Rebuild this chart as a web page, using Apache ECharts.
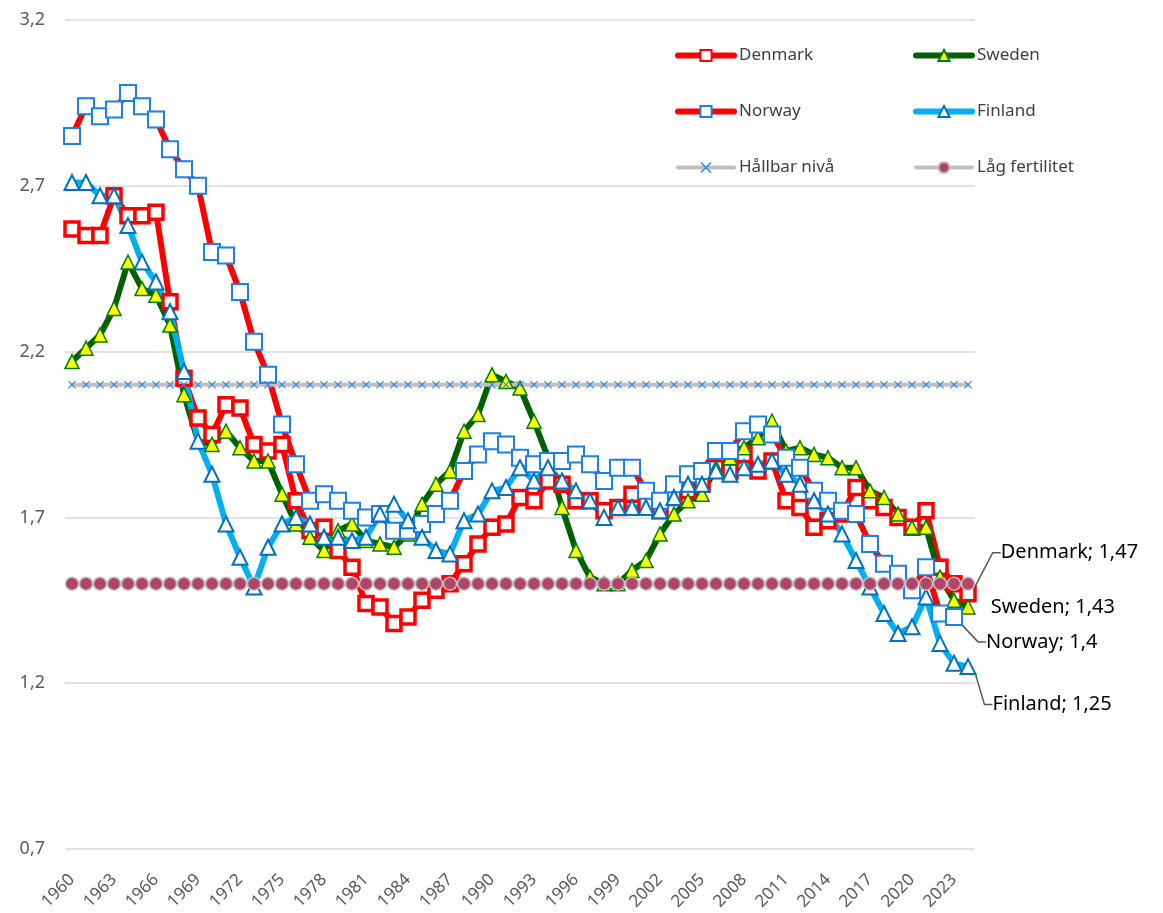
<!DOCTYPE html>
<html>
<head>
<meta charset="utf-8">
<script src="https://cdn.jsdelivr.net/npm/echarts@6/dist/echarts.min.js"></script>
<style>
  html, body { margin: 0; padding: 0; background: #fff; }
  #chart { width: 1163px; height: 913px; }
</style>
</head>
<body>
<div id="chart"></div>
<script>
// years 1960-2024
var years = [];
for (var y = 1960; y <= 2024; y++) years.push(String(y));

var denmark = [2.57, 2.55, 2.55, 2.67, 2.61, 2.61, 2.62, 2.35, 2.12, 2.00,
  1.95, 2.04, 2.03, 1.92, 1.90, 1.92, 1.75, 1.66, 1.67, 1.60,
  1.55, 1.44, 1.43, 1.38, 1.40, 1.45, 1.48, 1.50, 1.56, 1.62,
  1.67, 1.68, 1.76, 1.75, 1.81, 1.80, 1.75, 1.75, 1.72, 1.73,
  1.77, 1.74, 1.72, 1.76, 1.78, 1.80, 1.85, 1.84, 1.89, 1.84,
  1.87, 1.75, 1.73, 1.67, 1.69, 1.71, 1.79, 1.75, 1.73, 1.70,
  1.67, 1.72, 1.55, 1.50, 1.47];

var sweden = [2.17, 2.21, 2.25, 2.33, 2.47, 2.39, 2.37, 2.28, 2.07, 1.93,
  1.92, 1.96, 1.91, 1.87, 1.87, 1.77, 1.68, 1.64, 1.60, 1.66,
  1.68, 1.63, 1.62, 1.61, 1.65, 1.74, 1.80, 1.84, 1.96, 2.01,
  2.13, 2.11, 2.09, 1.99, 1.88, 1.73, 1.60, 1.52, 1.50, 1.50,
  1.54, 1.57, 1.65, 1.71, 1.75, 1.77, 1.85, 1.88, 1.91, 1.94,
  1.99, 1.90, 1.91, 1.89, 1.88, 1.85, 1.85, 1.78, 1.76, 1.71,
  1.67, 1.67, 1.52, 1.45, 1.43];

var norway = [2.85, 2.94, 2.91, 2.93, 2.98, 2.94, 2.90, 2.81, 2.75, 2.70,
  2.50, 2.49, 2.38, 2.23, 2.13, 1.98, 1.86, 1.75, 1.77, 1.75,
  1.72, 1.70, 1.71, 1.66, 1.66, 1.68, 1.71, 1.75, 1.84, 1.89,
  1.93, 1.92, 1.88, 1.86, 1.87, 1.87, 1.89, 1.86, 1.81, 1.85,
  1.85, 1.78, 1.75, 1.80, 1.83, 1.84, 1.90, 1.90, 1.96, 1.98,
  1.95, 1.88, 1.85, 1.78, 1.75, 1.72, 1.71, 1.62, 1.56, 1.53,
  1.48, 1.55, 1.41, 1.40];

var finland = [2.71, 2.71, 2.67, 2.67, 2.58, 2.47, 2.41, 2.32, 2.14, 1.93,
  1.83, 1.68, 1.58, 1.49, 1.61, 1.68, 1.70, 1.68, 1.64, 1.64,
  1.63, 1.64, 1.71, 1.74, 1.69, 1.64, 1.60, 1.59, 1.69, 1.71,
  1.78, 1.79, 1.85, 1.81, 1.85, 1.81, 1.78, 1.75, 1.70, 1.73,
  1.73, 1.73, 1.72, 1.76, 1.80, 1.80, 1.84, 1.83, 1.85, 1.86,
  1.87, 1.83, 1.80, 1.75, 1.71, 1.65, 1.57, 1.49, 1.41, 1.35,
  1.37, 1.46, 1.32, 1.26, 1.25];

// reference levels (one value per year)
var hallbar = [2.1, 2.1, 2.1, 2.1, 2.1, 2.1, 2.1, 2.1, 2.1, 2.1,
  2.1, 2.1, 2.1, 2.1, 2.1, 2.1, 2.1, 2.1, 2.1, 2.1,
  2.1, 2.1, 2.1, 2.1, 2.1, 2.1, 2.1, 2.1, 2.1, 2.1,
  2.1, 2.1, 2.1, 2.1, 2.1, 2.1, 2.1, 2.1, 2.1, 2.1,
  2.1, 2.1, 2.1, 2.1, 2.1, 2.1, 2.1, 2.1, 2.1, 2.1,
  2.1, 2.1, 2.1, 2.1, 2.1, 2.1, 2.1, 2.1, 2.1, 2.1,
  2.1, 2.1, 2.1, 2.1, 2.1];

var lag = [1.5, 1.5, 1.5, 1.5, 1.5, 1.5, 1.5, 1.5, 1.5, 1.5,
  1.5, 1.5, 1.5, 1.5, 1.5, 1.5, 1.5, 1.5, 1.5, 1.5,
  1.5, 1.5, 1.5, 1.5, 1.5, 1.5, 1.5, 1.5, 1.5, 1.5,
  1.5, 1.5, 1.5, 1.5, 1.5, 1.5, 1.5, 1.5, 1.5, 1.5,
  1.5, 1.5, 1.5, 1.5, 1.5, 1.5, 1.5, 1.5, 1.5, 1.5,
  1.5, 1.5, 1.5, 1.5, 1.5, 1.5, 1.5, 1.5, 1.5, 1.5,
  1.5, 1.5, 1.5, 1.5, 1.5];

var FONT = '"Noto Sans", "Open Sans", sans-serif';
var crossPath = 'path://M0,1L1,0L5,4L9,0L10,1L6,5L10,9L9,10L5,6L1,10L0,9L4,5Z';

function fmt(v) {
  return v.toFixed(2).replace(/0$/, '').replace(/\.$/, '').replace('.', ',');
}

// show a label only on the last point of a series
function withEndLabel(arr, name) {
  var out = arr.slice();
  var last = out.length - 1;
  out[last] = {
    value: arr[last],
    label: {
      show: true,
      formatter: name + '; ' + fmt(arr[last])
    }
  };
  return out;
}

var endLabelBase = {
  position: 'right',
  distance: 5,
  color: '#000',
  fontSize: 20,
  fontFamily: FONT
};

var myChart = echarts.init(document.getElementById('chart'));

var legendText = { color: '#404040', fontSize: 17, fontFamily: FONT };
var legendBase = {
  orient: 'vertical',
  top: 47,
  padding: 0,
  itemWidth: 56, itemHeight: 14, itemGap: 39,
  lineStyle: { width: 'inherit' },
  textStyle: legendText
};

var option = {
  backgroundColor: '#fff',
  animation: false,
  grid: { left: 65, right: 188, top: 20, bottom: 64 },
  legend: [
    Object.assign({ data: ['Denmark', 'Norway', 'Hållbar nivå'], left: 675 }, legendBase),
    Object.assign({ data: ['Sweden', 'Finland', 'Låg fertilitet'], left: 913 }, legendBase)
  ],
  xAxis: {
    type: 'category',
    data: years,
    boundaryGap: true,
    axisLine: { show: false },
    axisTick: { show: false },
    axisLabel: {
      interval: 2,
      rotate: 45,
      margin: 28,
      color: '#595959',
      fontSize: 17,
      fontFamily: FONT
    }
  },
  yAxis: {
    type: 'value',
    min: 0.7,
    max: 3.2,
    interval: 0.5,
    axisLine: { show: false },
    axisTick: { show: false },
    axisLabel: {
      margin: 20,
      color: '#595959',
      fontSize: 18,
      fontFamily: FONT,
      formatter: function (v) { return v.toFixed(1).replace('.', ','); }
    },
    splitLine: { lineStyle: { color: '#D9D9D9', width: 1.5 } }
  },
  series: [
    {
      name: 'Denmark',
      type: 'line',
      data: withEndLabel(denmark, 'Denmark'),
      showAllSymbol: true,
      symbol: 'rect',
      symbolSize: 14,
      lineStyle: { color: '#FF0000', width: 6, cap: 'round', join: 'round' },
      itemStyle: { color: '#FFFFFF', borderColor: '#FF0000', borderWidth: 3.5 },
      label: endLabelBase,
      labelLayout: { dx: 19, dy: -41 },
      labelLine: { show: true, length2: 8, lineStyle: { color: '#595959', width: 1.5 } }
    },
    {
      name: 'Sweden',
      type: 'line',
      data: withEndLabel(sweden, 'Sweden'),
      showAllSymbol: true,
      symbol: 'triangle',
      symbolSize: 14,
      lineStyle: { color: '#006100', width: 6, cap: 'round', join: 'round' },
      itemStyle: { color: '#FFFF00', borderColor: '#008000', borderWidth: 1.5 },
      label: endLabelBase,
      labelLayout: { dx: 10, dy: 0 }
    },
    {
      name: 'Norway',
      type: 'line',
      data: withEndLabel(norway, 'Norway'),
      showAllSymbol: true,
      symbol: 'rect',
      symbolSize: 16,
      lineStyle: { color: '#FF0000', width: 6, cap: 'round', join: 'round' },
      itemStyle: { color: '#FFFFFF', borderColor: '#1A7FE6', borderWidth: 2 },
      label: endLabelBase,
      labelLayout: { dx: 18, dy: 25 },
      labelLine: { show: true, length2: 8, lineStyle: { color: '#595959', width: 1.5 } }
    },
    {
      name: 'Finland',
      type: 'line',
      data: withEndLabel(finland, 'Finland'),
      showAllSymbol: true,
      symbol: 'triangle',
      symbolSize: 15,
      lineStyle: { color: '#00B0F0', width: 6, cap: 'round', join: 'round' },
      itemStyle: { color: '#FFFFFF', borderColor: '#0070C0', borderWidth: 2 },
      label: endLabelBase,
      labelLayout: { dx: 11, dy: 38 },
      labelLine: { show: true, length2: 8, lineStyle: { color: '#595959', width: 1.5 } }
    },
    {
      name: 'Hållbar nivå',
      type: 'line',
      data: hallbar,
      showAllSymbol: true,
      symbol: crossPath,
      symbolSize: 8,
      lineStyle: { color: '#BFBFBF', width: 4, cap: 'round' },
      itemStyle: { color: '#2A8CF0' }
    },
    {
      name: 'Låg fertilitet',
      type: 'line',
      data: lag,
      showAllSymbol: true,
      symbol: 'circle',
      symbolSize: 13,
      lineStyle: { color: '#BFBFBF', width: 4, cap: 'round' },
      itemStyle: { color: '#B2446A', borderColor: '#BFBFBF', borderWidth: 1.5 }
    }
  ]
};

myChart.setOption(option);
</script>
</body>
</html>
